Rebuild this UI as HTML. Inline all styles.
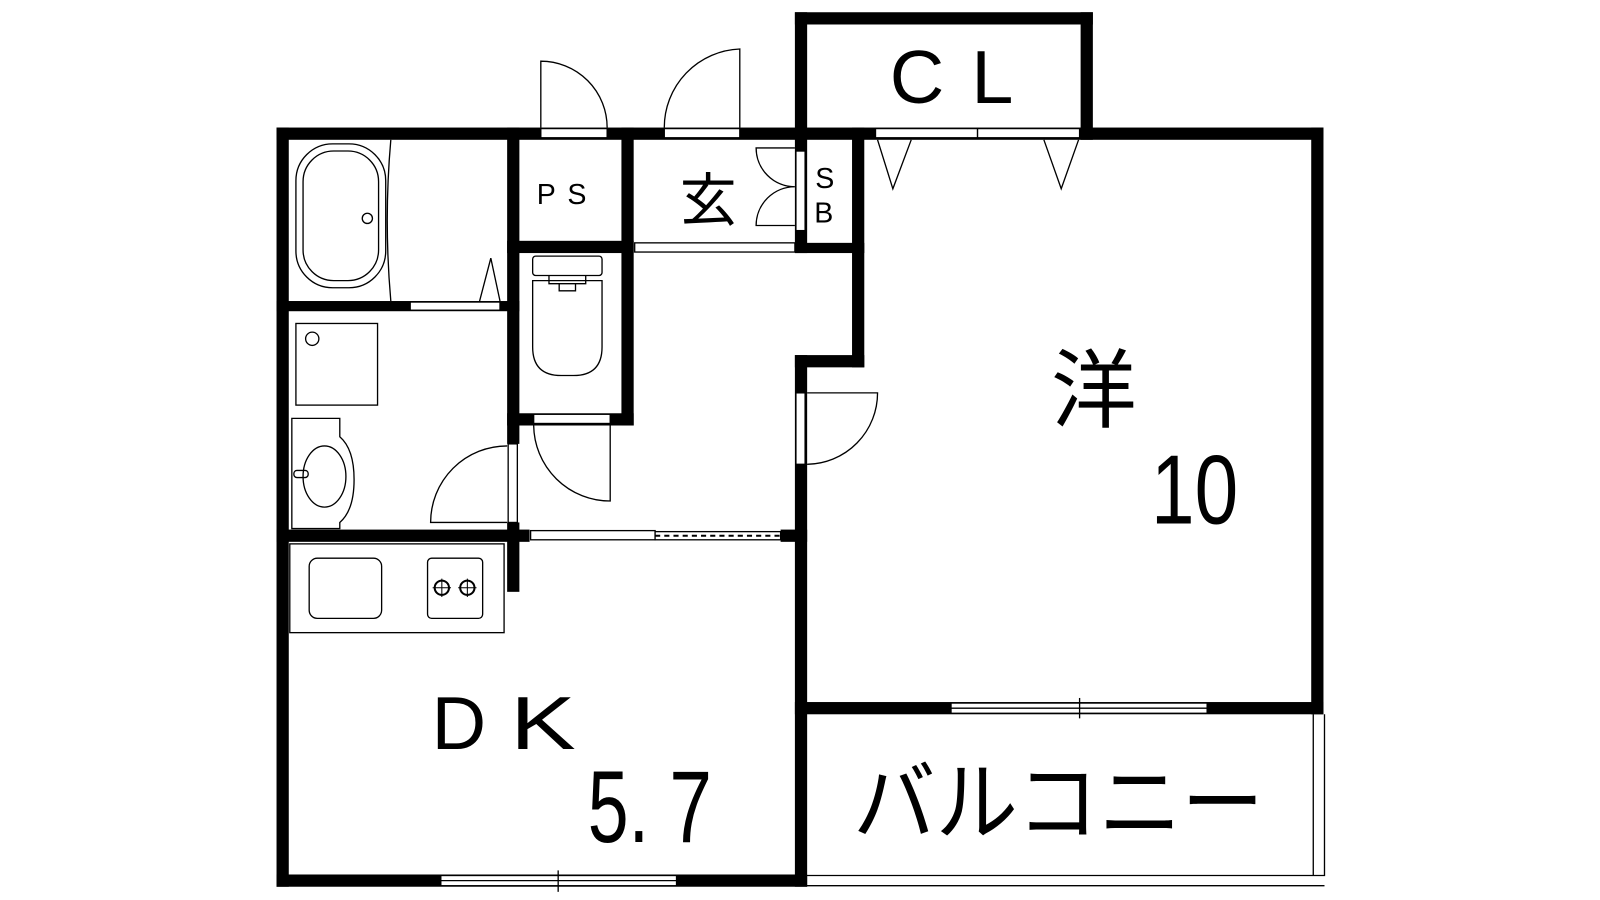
<!DOCTYPE html>
<html><head><meta charset="utf-8"><style>
html,body{margin:0;padding:0;background:#fff;}
svg{display:block;}
text{font-family:"Liberation Sans","Noto Sans CJK JP",sans-serif;fill:#000;}
</style></head><body>
<svg width="1600" height="900" viewBox="0 0 1568 882" xmlns="http://www.w3.org/2000/svg">
<rect width="1568" height="882" fill="#fff"/>
<g fill="#000">
<rect x="271" y="125" width="1026" height="12"/>
<rect x="271" y="125" width="12" height="744"/>
<rect x="271" y="857" width="520" height="12"/>
<rect x="1285" y="125" width="12" height="575"/>
<rect x="779" y="12" width="292" height="12"/>
<rect x="779" y="12" width="12" height="236"/>
<rect x="1059" y="12" width="12" height="125"/>
<rect x="835" y="125" width="12" height="235"/>
<rect x="779" y="238" width="68" height="10"/>
<rect x="779" y="348" width="68" height="12"/>
<rect x="779" y="348" width="12" height="521"/>
<rect x="497" y="125" width="12" height="310"/>
<rect x="609" y="125" width="12" height="292"/>
<rect x="497" y="236" width="124" height="12"/>
<rect x="497" y="405" width="124" height="12"/>
<rect x="497" y="512" width="12" height="68"/>
<rect x="271" y="295" width="238" height="10"/>
<rect x="271" y="519" width="248" height="12"/>
<rect x="765" y="519" width="26" height="12"/>
<rect x="779" y="688" width="518" height="12"/>
</g>
<g fill="#fff" stroke="#000" stroke-width="1.3">
<rect x="530" y="126" width="65" height="9"/>
<rect x="651" y="126" width="74" height="9"/>
<rect x="858" y="126" width="100" height="9"/>
<rect x="958" y="126" width="100" height="9"/>
<rect x="780" y="148" width="9" height="78"/>
<rect x="622" y="238" width="157" height="9"/>
<rect x="402" y="296" width="88" height="8"/>
<rect x="523" y="406" width="75" height="9"/>
<rect x="498" y="435" width="9" height="77"/>
<rect x="780" y="385" width="9" height="70"/>
<rect x="520" y="520" width="122" height="9"/>
<rect x="642" y="521" width="123" height="8"/>
<rect x="432" y="858" width="231" height="10"/>
<rect x="932" y="689" width="251" height="10"/>
</g>
<g stroke="#000" stroke-width="1.3" fill="none">
<line x1="642" y1="525" x2="765" y2="525" stroke-dasharray="5,4" stroke-width="2"/>
<line x1="432" y1="863" x2="663" y2="863"/>
<line x1="932" y1="694" x2="1183" y2="694"/>
<line x1="547" y1="853" x2="547" y2="874"/>
<line x1="1058" y1="684" x2="1058" y2="704"/>
<path d="M790 858 H1298 V700 M790 868 H1298 M1287 700 V858"/>
<path d="M530 125 V60 A65 65 0 0 1 595 125"/>
<path d="M725 125 V48 A77 77 0 0 0 651 125"/>
<path d="M779 145 H741 A38 38 0 0 0 779 183 M779 221 H741 A38 38 0 0 1 779 183"/>
<path d="M791 385 H860 A70 70 0 0 1 791 455"/>
<path d="M598 417 V491 A75 75 0 0 1 523 417"/>
<path d="M497 512 H422 A75 75 0 0 1 497 437"/>
<path d="M860 137 L875 185 L893 137 M1023 137 L1040 185 L1057 137"/>
<rect x="290" y="141" width="88" height="141" rx="36"/>
<rect x="297" y="148" width="74" height="127" rx="30"/>
<circle cx="360" cy="214" r="5"/>
<path d="M383 137 Q376 216 383 295"/>
<path d="M470 295 L481 253 L490 295"/>
<rect x="290" y="317" width="80" height="80"/>
<circle cx="306" cy="332" r="6.5"/>
<path d="M286 518 V410 H333 V428 Q347 440 347 470 Q347 500 333 512 V518 Z"/>
<ellipse cx="318" cy="467" rx="21" ry="30"/>
<rect x="288" y="461" width="14" height="7" rx="3"/>
<rect x="522" y="251" width="68" height="19" rx="3"/>
<path d="M538 270 V278 H574 V270"/>
<path d="M522 275 H590 V340 Q590 368 562 368 H550 Q522 368 522 340 Z"/>
<path d="M548 278 V285 H564 V278"/>
<rect x="284" y="533" width="210" height="87"/>
<rect x="303" y="547" width="71" height="59" rx="8"/>
<rect x="419" y="547" width="54" height="59" rx="4"/>
<circle cx="433" cy="576" r="7" stroke-width="2"/>
<circle cx="458" cy="576" r="7" stroke-width="2"/>
<path d="M424 576 H442 M433 567 V585 M449 576 H467 M458 567 V585" stroke-width="1"/>
</g>
<text x="872" y="101" font-size="74">C</text>
<text x="952" y="101" font-size="74">L</text>
<text x="526" y="200" font-size="28">P</text>
<text x="556" y="200" font-size="28">S</text>
<text x="666" y="216" font-size="56">玄</text>
<text x="799" y="184" font-size="28">S</text>
<text x="798" y="218" font-size="28">B</text>
<text x="1030" y="412" font-size="84">洋</text>
<text transform="translate(1128,513) scale(0.8,1)" font-size="96">10</text>
<text x="423" y="734" font-size="74">D</text>
<text transform="translate(500,734) scale(1.3,1)" font-size="74">K</text>
<text transform="translate(576,825) scale(0.72,1)" font-size="100">5.</text>
<text transform="translate(656,825) scale(0.75,1)" font-size="100">7</text>
<text transform="translate(836,817) scale(0.94,1)" font-size="86">バルコニー</text>
</svg>
</body></html>
